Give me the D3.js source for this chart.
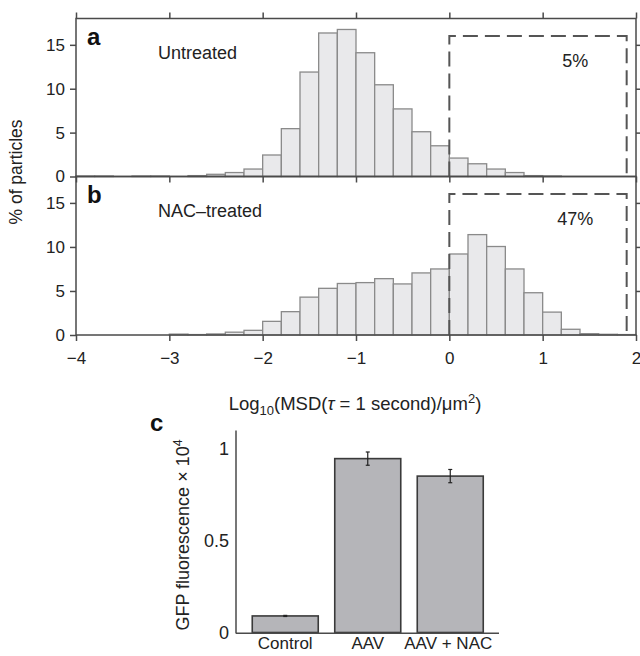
<!DOCTYPE html>
<html>
<head>
<meta charset="utf-8">
<script src="https://cdn.jsdelivr.net/npm/d3@7/dist/d3.min.js"></script>
<style>
  html, body { margin: 0; padding: 0; background: #fff; }
  svg { display: block; font-family: "Liberation Sans", Arial, Helvetica, sans-serif; }
</style>
</head>
<body>
<svg id="chart" width="640" height="656"></svg>
<script>
// ---------- DATA ----------
const binStarts = [-4.0,-3.8,-3.6,-3.4,-3.2,-3.0,-2.8,-2.6,-2.4,-2.2,-2.0,-1.8,-1.6,-1.4,-1.2,-1.0,-0.8,-0.6,-0.4,-0.2,0.0,0.2,0.4,0.6,0.8,1.0,1.2,1.4,1.6,1.8];
const binWidth = 0.2;
const untreated = [0.05,0.05,0,0.05,0.05,0,0.1,0.25,0.45,0.85,2.45,5.45,11.9,16.35,16.75,14.1,10.45,7.7,5.1,3.5,2.1,1.45,0.85,0.45,0.1,0.05,0,0,0,0];
const nacTreated = [0,0,0,0,0,0.1,0.05,0.12,0.32,0.53,1.55,2.65,4.3,5.3,5.85,5.95,6.4,5.8,7.05,7.5,9.2,11.4,10.05,7.5,4.8,2.6,0.65,0.15,0.08,0.05];
const histXTicks = [-4,-3,-2,-1,0,1,2];
const histYTicks = [0,5,10,15];
const panelLabels = ["Untreated","NAC\u2013treated"];
const percentLabels = ["5%","47%"];
const gateRange = [0, 1.9];
const gateHeight = 16;

const gfpCategories = ["Control","AAV","AAV + NAC"];
const gfpValues = [0.09, 0.945, 0.85];
const gfpErrors = [0.003, 0.036, 0.036];
const gfpYTicks = [0, 0.5, 1];

// ---------- DRAW ----------
const svg = d3.select("#chart");
const axisColor = "#4a4a4a";
const textColor = "#222";

const x = d3.scaleLinear().domain([-4, 2]).range([76, 636]);
const yA = d3.scaleLinear().domain([0, 18]).range([176.5, 18.5]);
const yB = d3.scaleLinear().domain([0, 18]).range([335, 176.5]);

function fmtMinus(d){ return d < 0 ? "\u2212" + Math.abs(d) : String(d); }

function drawHist(values, y, idx) {
  const g = svg.append("g");
  g.selectAll("rect.bar").data(binStarts.map((s,i)=>({s, v: values[i]})).filter(d=>d.v>0))
    .join("rect")
    .attr("x", d => x(d.s))
    .attr("width", d => x(d.s + binWidth) - x(d.s))
    .attr("y", d => y(d.v))
    .attr("height", d => y(0) - y(d.v))
    .attr("fill", "#e9e9eb")
    .attr("stroke", "#8a8a8a")
    .attr("stroke-width", 1.3);

  const gx0 = x(gateRange[0]), gx1 = x(gateRange[1]), gy = y(gateHeight), gb = y(0);
  g.append("path")
    .attr("d", `M${gx0},${gb} L${gx0},${gy} L${gx1},${gy} L${gx1},${gb}`)
    .attr("fill", "none")
    .attr("stroke", "#555")
    .attr("stroke-width", 2)
    .attr("stroke-dasharray", "15,7");

  const [x0, x1] = x.range();
  const [yb, yt] = y.range();
  g.append("rect").attr("x", x0).attr("y", yt).attr("width", x1 - x0).attr("height", yb - yt)
    .attr("fill", "none").attr("stroke", axisColor).attr("stroke-width", 1.5);

  const left = g.append("g").attr("transform", `translate(${x0},0)`)
    .call(d3.axisLeft(y).tickValues(histYTicks).tickSize(6).tickSizeOuter(0).tickPadding(5));
  left.select(".domain").remove();
  left.selectAll("line").attr("stroke", axisColor).attr("stroke-width", 1.5);
  left.selectAll("text").attr("font-size", 17).attr("fill", textColor).attr("font-family", null);

  const right = g.append("g").attr("transform", `translate(${x1},0)`)
    .call(d3.axisRight(y).tickValues(histYTicks.filter(d=>d>0)).tickSize(6).tickSizeOuter(0).tickFormat(""));
  right.select(".domain").remove();
  right.selectAll("line").attr("stroke", axisColor).attr("stroke-width", 1.5);

  const top = g.append("g").attr("transform", `translate(0,${yt})`)
    .call(d3.axisTop(x).tickValues(histXTicks).tickSize(idx === 0 ? 6 : 0).tickSizeOuter(0).tickFormat(""));
  top.select(".domain").remove();
  top.selectAll("line").attr("stroke", axisColor).attr("stroke-width", 1.5);

  const bottom = g.append("g").attr("transform", `translate(0,${yb})`)
    .call(d3.axisBottom(x).tickValues(histXTicks).tickSize(6).tickSizeOuter(0).tickPadding(11)
      .tickFormat(idx === 1 ? fmtMinus : ""));
  bottom.select(".domain").remove();
  bottom.selectAll("line").attr("stroke", axisColor).attr("stroke-width", 1.5);
  bottom.selectAll("text").attr("font-size", 17).attr("fill", textColor).attr("font-family", null);

  g.append("text").attr("x", 87).attr("y", yt + 26).attr("font-size", 24).attr("font-weight", "bold")
    .attr("fill", "#111").text(idx === 0 ? "a" : "b");
  g.append("text").attr("x", 158).attr("y", yt + 40).attr("font-size", 18).attr("fill", textColor)
    .text(panelLabels[idx]);
  g.append("text").attr("x", x(1.35)).attr("y", yt + 48).attr("text-anchor", "middle")
    .attr("font-size", 18).attr("fill", textColor).text(percentLabels[idx]);
}

drawHist(untreated, yA, 0);
drawHist(nacTreated, yB, 1);

svg.append("text").attr("transform", "translate(22,172) rotate(-90)")
  .attr("text-anchor", "middle").attr("font-size", 17.5).attr("fill", textColor)
  .text("% of particles");

const xl = svg.append("text").attr("x", 355).attr("y", 410).attr("text-anchor", "middle")
  .attr("font-size", 18.5).attr("fill", textColor);
xl.append("tspan").text("Log");
xl.append("tspan").attr("font-size", 13).attr("dy", 5).text("10");
xl.append("tspan").attr("dy", -5).text("(MSD(");
xl.append("tspan").attr("font-style", "italic").text("\u03C4");
xl.append("tspan").text(" = 1 second)/\u03BCm");
xl.append("tspan").attr("font-size", 13).attr("dy", -7).text("2");
xl.append("tspan").attr("dy", 7).text(")");

// ---------- Panel c ----------
const cx = d3.scaleBand().domain(gfpCategories).range([244, 491.5]).paddingInner(0.2).paddingOuter(0.1);
const cy = d3.scaleLinear().domain([0, 1.1]).range([632.5, 430.1]);
const gc = svg.append("g");

gc.selectAll("rect.gfp").data(gfpCategories.map((c,i)=>({c, v: gfpValues[i], e: gfpErrors[i]})))
  .join("rect")
  .attr("x", d => cx(d.c)).attr("width", cx.bandwidth())
  .attr("y", d => cy(d.v)).attr("height", d => cy(0) - cy(d.v))
  .attr("fill", "#b5b5b9").attr("stroke", "#3a3a3a").attr("stroke-width", 1.6);

const errs = gc.selectAll("g.err").data(gfpCategories.map((c,i)=>({c, v: gfpValues[i], e: gfpErrors[i]})))
  .join("g");
errs.append("line")
  .attr("x1", d => cx(d.c) + cx.bandwidth()/2).attr("x2", d => cx(d.c) + cx.bandwidth()/2)
  .attr("y1", d => cy(d.v + d.e)).attr("y2", d => cy(d.v - d.e))
  .attr("stroke", "#222").attr("stroke-width", 1.2);
errs.append("line")
  .attr("x1", d => cx(d.c) + cx.bandwidth()/2 - 2).attr("x2", d => cx(d.c) + cx.bandwidth()/2 + 2)
  .attr("y1", d => cy(d.v + d.e)).attr("y2", d => cy(d.v + d.e))
  .attr("stroke", "#222").attr("stroke-width", 1.2);
errs.append("line")
  .attr("x1", d => cx(d.c) + cx.bandwidth()/2 - 2).attr("x2", d => cx(d.c) + cx.bandwidth()/2 + 2)
  .attr("y1", d => cy(d.v - d.e)).attr("y2", d => cy(d.v - d.e))
  .attr("stroke", "#222").attr("stroke-width", 1.2);

gc.append("line").attr("x1", 236).attr("x2", 236).attr("y1", 430.5).attr("y2", 633.5)
  .attr("stroke", axisColor).attr("stroke-width", 1.5);
gc.append("line").attr("x1", 236).attr("x2", 499).attr("y1", 633.3).attr("y2", 633.3)
  .attr("stroke", axisColor).attr("stroke-width", 1.5);

const cLeft = gc.append("g").attr("transform", "translate(236,0)")
  .call(d3.axisLeft(cy).tickValues(gfpYTicks).tickSize(0).tickPadding(7).tickFormat(d => String(d)));
cLeft.select(".domain").remove();
cLeft.selectAll("text").attr("font-size", 18).attr("fill", textColor).attr("font-family", null);

const cBottom = gc.append("g").attr("transform", "translate(0,633.3)")
  .call(d3.axisBottom(cx).tickSize(0).tickPadding(4));
cBottom.select(".domain").remove();
cBottom.selectAll("text").attr("font-size", 17).attr("fill", textColor).attr("font-family", null);
cBottom.selectAll(".tick").filter(d => d === "AAV + NAC").select("text").attr("dx", -2);

gc.append("text").attr("x", 150).attr("y", 431).attr("font-size", 24).attr("font-weight", "bold")
  .attr("fill", "#111").text("c");

const gl = gc.append("text").attr("transform", "translate(189,535) rotate(-90)")
  .attr("text-anchor", "middle").attr("font-size", 18).attr("fill", textColor);
gl.append("tspan").text("GFP fluorescence \u00D7 10");
gl.append("tspan").attr("font-size", 12.5).attr("dy", -7).text("4");
</script>
</body>
</html>
